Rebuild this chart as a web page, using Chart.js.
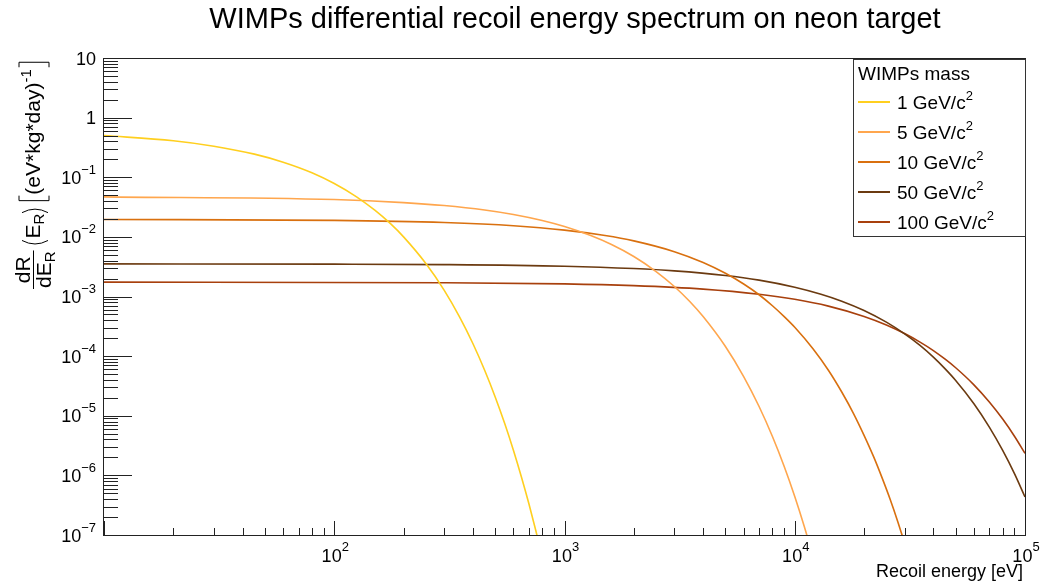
<!DOCTYPE html>
<html>
<head>
<meta charset="utf-8">
<script src="https://cdn.jsdelivr.net/npm/chart.js@4.4.0/dist/chart.umd.min.js"></script>
<style>
  html, body { margin: 0; padding: 0; background: #fff; }
  #wrap { width: 1044px; height: 585px; position: relative; }
</style>
</head>
<body>
<div id="wrap"><canvas id="spectrum"></canvas></div>
<script>
// Recoil energy [eV] and rate [(eV*kg*day)^-1] for each WIMP mass
const energy1 = [10, 20, 30, 45, 60, 80, 100, 125, 150, 175, 200, 250, 300, 350, 400, 450, 500, 550, 600, 650, 700, 750, 800];
const rate1 = [0.50, 0.41, 0.332, 0.244, 0.179, 0.119, 0.0785, 0.047, 0.028, 0.0168, 0.0100, 3.57e-3, 1.28e-3, 4.56e-4, 1.63e-4, 5.8e-5, 2.07e-5, 7.4e-6, 2.64e-6, 9.4e-7, 3.37e-7, 1.2e-7, 4.3e-8];

const energy5 = [10, 100, 200, 300, 450, 600, 800, 1000, 1300, 1600, 2000, 2500, 3000, 3500, 4000, 5000, 6000, 7000, 8000, 9000, 10000, 11000, 12000];
const rate5 = [0.0469, 0.0423, 0.0376, 0.0335, 0.0282, 0.0237, 0.0188, 0.0149, 0.0105, 7.43e-3, 4.68e-3, 2.62e-3, 1.47e-3, 8.24e-4, 4.61e-4, 1.45e-4, 4.55e-5, 1.43e-5, 4.49e-6, 1.41e-6, 4.43e-7, 1.39e-7, 4.37e-8];

const energy10 = [10, 100, 300, 600, 1000, 1500, 2000, 3000, 4000, 5000, 6000, 7000, 8000, 9000, 10000, 12000, 14000, 16000, 18000, 20000, 22000, 24000, 26000, 28000, 30000];
const rate10 = [0.0196, 0.0189, 0.0174, 0.0154, 0.0130, 0.01055, 8.57e-3, 5.65e-3, 3.72e-3, 2.45e-3, 1.62e-3, 1.07e-3, 7.0e-4, 4.6e-4, 3.05e-4, 1.33e-4, 5.8e-5, 2.5e-5, 1.09e-5, 4.7e-6, 2.06e-6, 8.9e-7, 3.9e-7, 1.69e-7, 7.3e-8];

const energy50 = [10, 100, 300, 1000, 2000, 3000, 5000, 7000, 10000, 13000, 16000, 20000, 25000, 30000, 35000, 40000, 45000, 50000, 60000, 70000, 80000, 90000, 100000];
const rate50 = [3.52e-3, 3.49e-3, 3.43e-3, 3.22e-3, 2.94e-3, 2.69e-3, 2.25e-3, 1.88e-3, 1.43e-3, 1.09e-3, 8.34e-4, 5.82e-4, 3.71e-4, 2.36e-4, 1.51e-4, 9.6e-5, 6.1e-5, 3.9e-5, 1.59e-5, 6.46e-6, 2.62e-6, 1.07e-6, 4.34e-7];

const energy100 = [10, 300, 1000, 2000, 4000, 7000, 10000, 14000, 20000, 25000, 30000, 35000, 40000, 45000, 50000, 60000, 70000, 80000, 90000, 100000];
const rate100 = [1.74e-3, 1.70e-3, 1.63e-3, 1.52e-3, 1.33e-3, 1.09e-3, 8.97e-4, 6.89e-4, 4.63e-4, 3.33e-4, 2.39e-4, 1.72e-4, 1.24e-4, 8.88e-5, 6.38e-5, 3.3e-5, 1.70e-5, 8.79e-6, 4.54e-6, 2.34e-6];

const massLabels = ["1", "5", "10", "50", "100"];
const lineColors = ["#ffcf1f", "#ffa64d", "#d9700f", "#6b3a10", "#a8400d"];

// tick labels (base, exponent)
const xTickValues = [100, 1000, 10000, 100000];
const xTickExp = ["2", "3", "4", "5"];
const yTickValues = [10, 1, 1e-1, 1e-2, 1e-3, 1e-4, 1e-5, 1e-6, 1e-7];
const yTickBase = ["10", "1", "10", "10", "10", "10", "10", "10", "10"];
const yTickExp = ["", "", "\u22121", "\u22122", "\u22123", "\u22124", "\u22125", "\u22126", "\u22127"];

const FONT = '"Liberation Sans", Arial, Helvetica, sans-serif';

function toPoints(xs, ys) {
  return xs.map((x, i) => ({ x: x, y: ys[i] }));
}

function richWidth(ctx, parts) {
  let w = 0;
  parts.forEach(p => {
    ctx.font = p.size + "px " + FONT;
    w += ctx.measureText(p.text).width;
  });
  return w;
}

function drawRich(ctx, parts, x, y, align) {
  const w = richWidth(ctx, parts);
  let cx = x;
  if (align === "right") cx = x - w;
  if (align === "center") cx = x - w / 2;
  ctx.textAlign = "left";
  ctx.textBaseline = "alphabetic";
  parts.forEach(p => {
    ctx.font = p.size + "px " + FONT;
    ctx.fillText(p.text, cx, y + (p.dy || 0));
    cx += ctx.measureText(p.text).width;
  });
  return w;
}

function paren(ctx, x, top, bottom, open) {
  const mid = (top + bottom) / 2;
  ctx.beginPath();
  if (open) {
    ctx.moveTo(x + 5, top);
    ctx.quadraticCurveTo(x - 2, mid, x + 5, bottom);
  } else {
    ctx.moveTo(x, top);
    ctx.quadraticCurveTo(x + 7, mid, x, bottom);
  }
  ctx.stroke();
}

function bracket(ctx, x, top, bottom, open) {
  ctx.beginPath();
  if (open) {
    ctx.moveTo(x + 5, top); ctx.lineTo(x, top); ctx.lineTo(x, bottom); ctx.lineTo(x + 5, bottom);
  } else {
    ctx.moveTo(x, top); ctx.lineTo(x + 5, top); ctx.lineTo(x + 5, bottom); ctx.lineTo(x, bottom);
  }
  ctx.stroke();
}

function drawYTitle(ctx) {
  const big = 21, small = 15;
  ctx.save();
  ctx.translate(33, 289);
  ctx.rotate(-Math.PI / 2);
  ctx.fillStyle = "#000";
  ctx.strokeStyle = "#000";
  ctx.lineWidth = 1;
  // dR / dE_R
  const num = [{ text: "dR", size: big }];
  const den = [{ text: "dE", size: big }, { text: "R", size: small, dy: 4 }];
  const wNum = richWidth(ctx, num), wDen = richWidth(ctx, den);
  const wFrac = Math.max(wNum, wDen) + 2;
  drawRich(ctx, num, (wFrac - wNum) / 2, -3);
  drawRich(ctx, den, (wFrac - wDen) / 2, 18);
  ctx.beginPath();
  ctx.moveTo(0, 0.5);
  ctx.lineTo(wFrac, 0.5);
  ctx.stroke();
  let x = wFrac + 5;
  const base = 7;
  // (E_R)
  paren(ctx, x, -11, 15, true);
  x += 7;
  x += drawRich(ctx, [{ text: "E", size: big }, { text: "R", size: small, dy: 4 }], x, base);
  x += 1;
  paren(ctx, x, -11, 15, false);
  x += 12;
  // [(eV*kg*day)^-1]
  bracket(ctx, x, -14, 16, true);
  x += 6;
  x += drawRich(ctx, [{ text: "(eV*kg*day)", size: big }, { text: "-1", size: small, dy: -9 }], x, base);
  x += 2;
  bracket(ctx, x, -14, 16, false);
  ctx.restore();
}

const rootFrame = {
  id: "rootFrame",
  afterDraw(chart) {
    const ctx = chart.ctx;
    const area = chart.chartArea;
    const xs = chart.scales.x, ys = chart.scales.y;
    ctx.save();
    ctx.strokeStyle = "#222";
    ctx.lineWidth = 1;
    ctx.strokeRect(Math.round(area.left) - 0.5, Math.round(area.top) + 0.5,
      Math.round(area.right - area.left) + 1, Math.round(area.bottom - area.top));

    // ticks on a log axis: decades long, 2..9 short
    ctx.beginPath();
    for (let k = 1; k <= 5; k++) {
      for (let m = 1; m <= 9; m++) {
        const v = m * Math.pow(10, k);
        if (v < xs.min || v > xs.max) continue;
        const px = Math.round(xs.getPixelForValue(v)) + 0.5;
        const len = m === 1 ? 14 : 7;
        ctx.moveTo(px, area.bottom);
        ctx.lineTo(px, area.bottom - len);
      }
    }
    for (let k = -7; k <= 1; k++) {
      for (let m = 1; m <= 9; m++) {
        const v = m * Math.pow(10, k);
        if (v < ys.min * 0.999 || v > ys.max * 1.001) continue;
        const py = Math.round(ys.getPixelForValue(v)) + 0.5;
        const len = m === 1 ? 28 : 14;
        ctx.moveTo(area.left, py);
        ctx.lineTo(area.left + len, py);
      }
    }
    ctx.stroke();

    // tick labels
    ctx.fillStyle = "#000";
    xTickValues.forEach((v, i) => {
      const px = xs.getPixelForValue(v);
      drawRich(ctx, [{ text: "10", size: 18 }, { text: xTickExp[i], size: 13, dy: -11 }], px + 1, 562, "center");
    });
    yTickValues.forEach((v, i) => {
      const py = ys.getPixelForValue(v);
      const parts = [{ text: yTickBase[i], size: 18 }];
      if (yTickExp[i]) parts.push({ text: yTickExp[i], size: 13, dy: -10 });
      drawRich(ctx, parts, 96, py + 6.5, "right");
    });

    // titles
    ctx.font = "29px " + FONT;
    ctx.textAlign = "center";
    ctx.fillText("WIMPs differential recoil energy spectrum on neon target", 575, 28);
    drawRich(ctx, [{ text: "Recoil energy [eV]", size: 18 }], 1023, 577, "right");
    drawYTitle(ctx);

    // legend box
    ctx.fillStyle = "#fff";
    ctx.fillRect(853, 59, 173, 178);
    ctx.strokeStyle = "#333";
    ctx.strokeRect(853.5, 59.5, 172, 177);
    ctx.fillStyle = "#000";
    ctx.font = "19px " + FONT;
    ctx.textAlign = "left";
    ctx.fillText("WIMPs mass", 858, 80);
    chart.data.datasets.forEach((ds, i) => {
      const y = 102 + i * 30;
      ctx.strokeStyle = ds.borderColor;
      ctx.lineWidth = 2;
      ctx.beginPath();
      ctx.moveTo(858, y);
      ctx.lineTo(890, y);
      ctx.stroke();
      ctx.fillStyle = "#000";
      drawRich(ctx, [{ text: massLabels[i] + " GeV/c", size: 19 }, { text: "2", size: 13, dy: -9 }], 897, y + 7);
    });
    ctx.restore();
  }
};

const series = [
  toPoints(energy1, rate1),
  toPoints(energy5, rate5),
  toPoints(energy10, rate10),
  toPoints(energy50, rate50),
  toPoints(energy100, rate100)
];

new Chart(document.getElementById("spectrum"), {
  type: "line",
  data: {
    datasets: series.map((pts, i) => ({
      label: massLabels[i] + " GeV/c2",
      data: pts,
      borderColor: lineColors[i],
      backgroundColor: lineColors[i],
      borderWidth: 1.6,
      pointRadius: 0,
      fill: false,
      cubicInterpolationMode: "monotone",
      clip: 1
    }))
  },
  options: {
    responsive: true,
    maintainAspectRatio: false,
    animation: false,
    layout: { padding: { left: 104, top: 58, right: 19, bottom: 50 } },
    plugins: {
      legend: { display: false },
      title: { display: false },
      tooltip: { enabled: false }
    },
    scales: {
      x: { type: "logarithmic", min: 10, max: 100000, display: false },
      y: { type: "logarithmic", min: 1e-7, max: 10, display: false }
    }
  },
  plugins: [rootFrame]
});
</script>
</body>
</html>
